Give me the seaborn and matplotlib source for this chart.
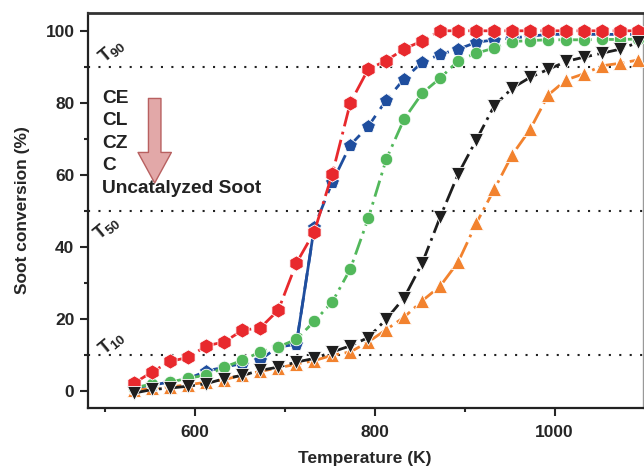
import numpy as np
import pandas as pd
import matplotlib
matplotlib.use("Agg")
import matplotlib.pyplot as plt
from matplotlib.ticker import MultipleLocator
import seaborn as sns

# data
temperature = [533 + 20 * i for i in range(29)]

ce = [2.3, 5.4, 8.3, 9.4, 12.6, 13.7, 16.9, 17.6, 22.5, 35.5, 44.3, 60.3, 80.0, 89.4,
      91.7, 95.0, 97.2, 100, 100, 100, 100, 100, 100, 100, 100, 100, 100, 100, 100]
cl = [1.0, 1.7, 2.6, 3.5, 5.6, 6.7, 7.7, 8.8, 12.3, 13.0, 45.6, 58.0, 68.3, 73.5,
      80.8, 86.7, 91.3, 93.5, 94.9, 96.8, 97.5, 98.0, 98.5, 99.0, 99.0, 99.0, 99.0, 99.0, 99.0]
cz = [1.0, 2.0, 2.5, 3.7, 4.4, 6.7, 8.6, 10.9, 12.3, 14.4, 19.4, 24.8, 33.9, 48.0,
      64.4, 75.6, 82.7, 86.9, 91.7, 93.8, 95.2, 97.0, 97.3, 97.5, 97.5, 97.5, 97.6, 97.6, 97.7]
c = [-0.5, 0.5, 0.9, 1.4, 2.1, 3.5, 4.4, 5.8, 6.7, 8.1, 9.1, 10.9, 12.6, 14.9,
     20.0, 26.0, 35.6, 48.4, 60.3, 69.7, 79.2, 84.1, 87.1, 89.3, 91.5, 92.7, 93.8, 94.9, 96.8]
soot = [0.3, 0.8, 1.2, 1.8, 2.5, 3.2, 4.5, 5.5, 6.5, 7.5, 8.5, 10.0, 10.9, 13.7,
        17.1, 20.6, 25.1, 29.2, 35.9, 46.6, 56.0, 65.6, 72.7, 82.2, 86.4, 88.1, 90.3, 91.0, 91.9]

labels = ["CE", "CL", "CZ", "C", "Uncatalyzed Soot"]
thresholds = [90, 50, 10]

sns.set_style("ticks")
plt.rcParams["font.family"] = ["Liberation Sans", "DejaVu Sans"]
plt.rcParams["font.weight"] = "bold"
plt.rcParams["mathtext.fontset"] = "custom"
plt.rcParams["mathtext.bf"] = "Liberation Sans:bold"
plt.rcParams["mathtext.rm"] = "Liberation Sans:bold"

fig = plt.figure(figsize=(6.44, 4.73), dpi=100)
ax = fig.add_axes([0.136, 0.137, 0.862, 0.836])

# threshold lines
for t in thresholds:
    ax.axhline(t, color="#222222", lw=1.5, linestyle=(0, (1, 4)), zorder=1)

series = [
    (soot, "^", "#F2822E", 10.5, (0, (6, 2, 1, 2))),
    (cl, "p", "#1F4E9E", 10.5, (0, (6, 3))),
    (cz, "o", "#52B85B", 9, (0, (6, 2, 1, 2))),
    (ce, "h", "#E8292D", 11, (0, (8, 2, 1, 2))),
    (c, "v", "#1E1E1E", 10.5, (0, (7, 2, 1, 2))),
]
for vals, mk, col, ms, ls in series:
    sns.lineplot(x=temperature, y=vals, ax=ax, color=col, marker=mk, markersize=ms,
                 markeredgecolor="white", markeredgewidth=0.6, lw=2, linestyle=ls,
                 zorder=3)
# CL jump drawn as a solid segment
sns.lineplot(x=temperature[9:11], y=cl[9:11], ax=ax, color="#1F4E9E", lw=2, zorder=2.9)

ax.set_xlim(481, 1098)
ax.set_ylim(-4.7, 105)
ax.xaxis.set_major_locator(MultipleLocator(200))
ax.xaxis.set_minor_locator(MultipleLocator(100))
ax.yaxis.set_major_locator(MultipleLocator(20))
ax.yaxis.set_minor_locator(MultipleLocator(10))
ax.tick_params(which="major", length=6, width=1.5, labelsize=12.5, direction="out")
ax.tick_params(which="minor", length=3, width=1.5, direction="out")
ax.tick_params(axis="x", pad=6)
for lab in ax.get_xticklabels() + ax.get_yticklabels():
    lab.set_fontweight("bold")

ax.set_xlabel("Temperature (K)", fontsize=12.5, fontweight="bold", labelpad=8)
ax.set_ylabel("Soot conversion (%)", fontsize=12.5, fontweight="bold", labelpad=11)

for side in ["left", "bottom"]:
    ax.spines[side].set_linewidth(1.6)
    ax.spines[side].set_color("#222222")
ax.spines["top"].set_linewidth(2)
ax.spines["top"].set_color("#333333")
ax.spines["right"].set_linewidth(1)
ax.spines["right"].set_color("#999999")

# legend-like text list with arrow
for lab, yv in zip(labels, [81.2, 75.0, 68.7, 62.6, 56.2]):
    ax.text(497.5, yv, lab, fontsize=13.8, fontweight="bold", va="center", ha="left",
            color="#222222", zorder=5)
ax.annotate("", xy=(555.6, 57.0), xytext=(555.6, 82.0),
            arrowprops=dict(arrowstyle="simple,head_length=1.1,head_width=1.2,tail_width=0.45",
                            mutation_scale=20, fc="#E2A8A8", ec="#B86060", lw=1),
            zorder=4)

# T labels
for t, (xv, yv) in zip(thresholds, [(508, 94.3), (503, 45.3), (508, 13.2)]):
    ax.text(xv, yv, r"$\mathbf{T}_{\mathbf{%d}}$" % t, fontsize=13.5, rotation=40,
            ha="center", va="center", color="#222222")

fig.savefig("out.png", dpi=100)
